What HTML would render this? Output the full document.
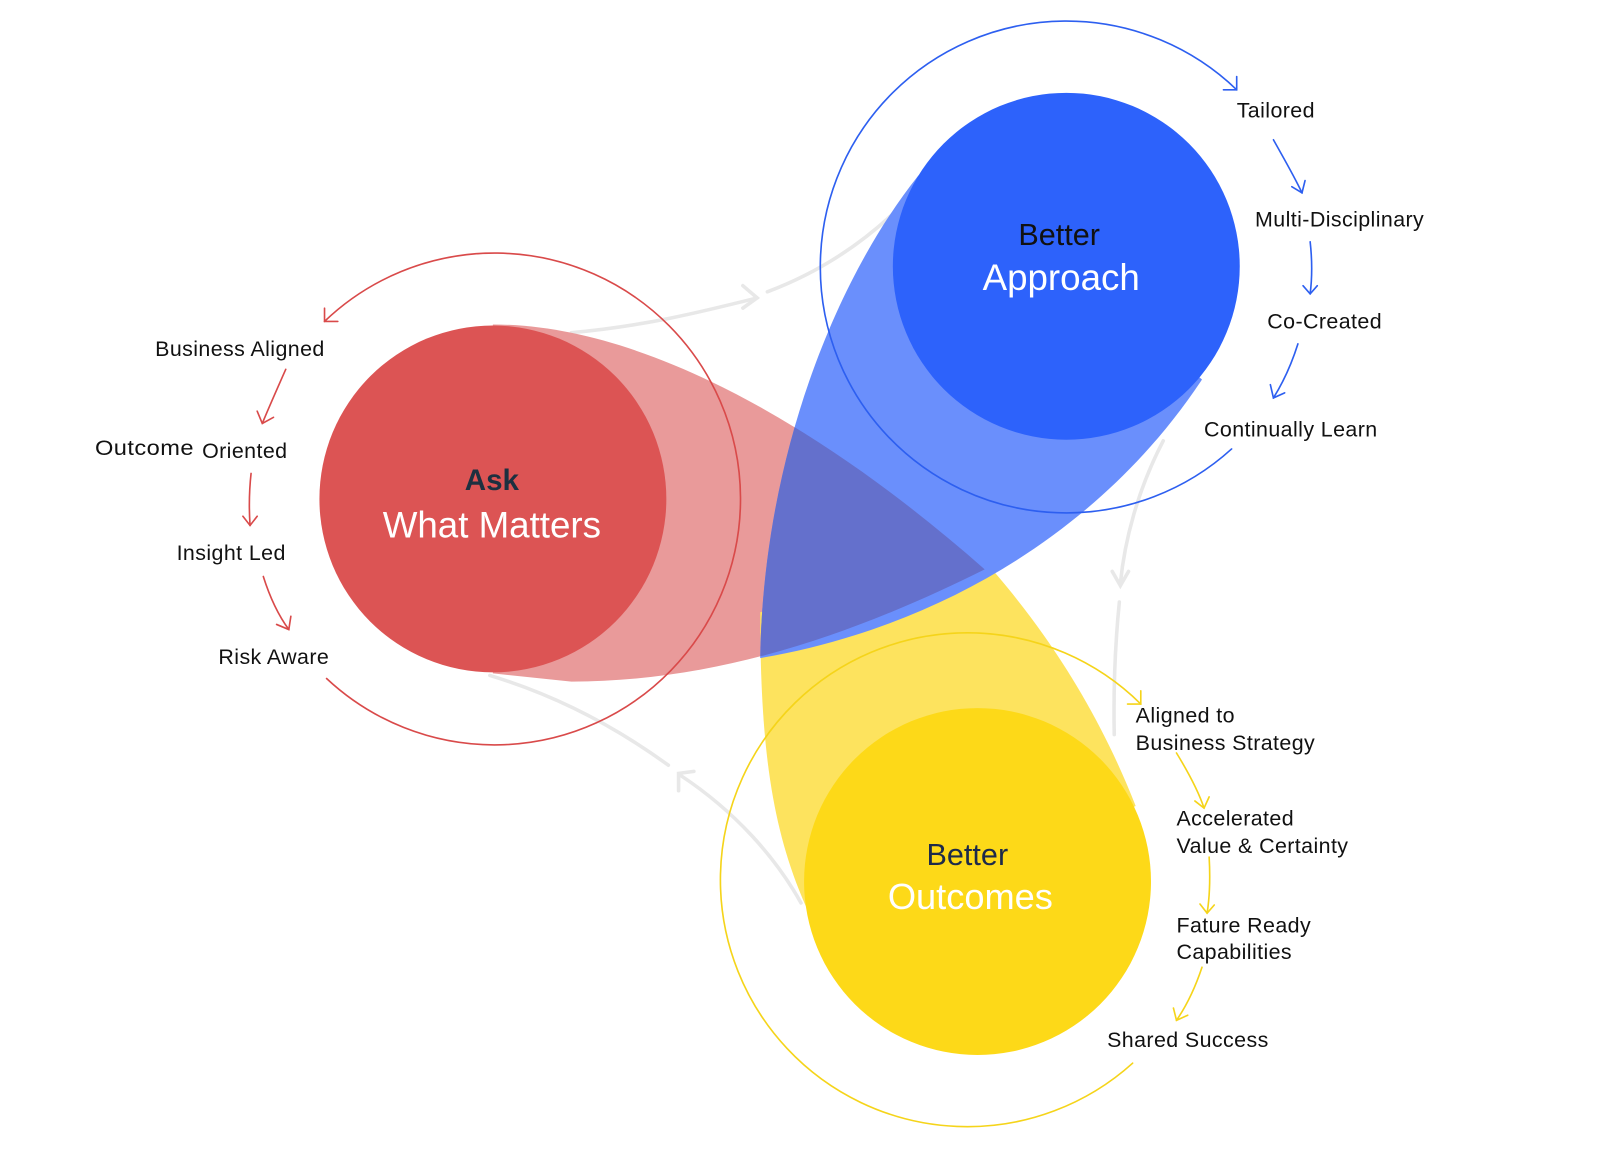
<!DOCTYPE html>
<html><head><meta charset="utf-8"><style>
html,body{margin:0;padding:0;background:#fff;}
svg{display:block;}
text{font-family:"Liberation Sans",sans-serif;}
.lb{font-size:21px;fill:#111;letter-spacing:0.4px;}
</style></head><body>
<svg width="1600" height="1155" viewBox="0 0 1568 1132" xmlns="http://www.w3.org/2000/svg">
<defs>
<clipPath id="blueclip"><path d="M900,172 C818,275 748,450 745,645 C920,615 1080,520 1178,372 L1045,261 Z"/></clipPath>
</defs>
<g fill="none" stroke="#e8e8e8" stroke-width="3.5" stroke-linecap="round">
<path d="M560,326 C630,320 690,305 742,292"/>
<path d="M728,280 L742,292 L728,302"/>
<path d="M752,286 C800,268 845,240 885,200"/>
<path d="M1140,432 C1115,480 1102,530 1098,572"/>
<path d="M1090,560 L1098,574 L1106,560"/>
<path d="M1097,590 C1093,630 1091,670 1092,720"/>
<path d="M785,885 C760,840 720,795 667,760"/>
<path d="M665,775 L665,758 L680,756"/>
<path d="M655,750 C600,710 540,680 480,662"/>
</g>
<path d="M483,318 C640,318 820,430 965,558 C860,610 720,668 560,668 L483,660 Z" fill="#e99a9a"/>
<path d="M745,600 C745,750 760,830 800,910 L958,864 L1113,790 C1070,680 1010,600 965,550 Z" fill="#fde35e"/>
<path d="M900,172 C818,275 748,450 745,645 C920,615 1080,520 1178,372 L1045,261 Z" fill="#6a8ffc"/>
<path d="M483,318 C640,318 820,430 965,558 C860,610 720,668 560,668 L483,660 Z" fill="#6470cc" clip-path="url(#blueclip)"/>
<circle cx="483" cy="489" r="170" fill="#dc5454"/>
<circle cx="1045" cy="261" r="170" fill="#2d62fb"/>
<circle cx="958" cy="864" r="170" fill="#fdd918"/>
<g fill="none" stroke-width="1.6" stroke-linecap="round">
<path d="M320,665 A241,241 0 1 0 318,315" stroke="#d94a4a"/>
<path d="M318,302 L318,315 L331,315" stroke="#d94a4a"/>
<path d="M1207,440 A241,241 0 1 1 1212,88" stroke="#2d5ff0"/>
<path d="M1212,75 L1212,88 L1199,88" stroke="#2d5ff0"/>
<path d="M1110,1042 A242,242 0 1 1 1118,690" stroke="#f5d41a"/>
<path d="M1118,677 L1118,690 L1105,690" stroke="#f5d41a"/>
<g stroke="#d94a4a">
<path d="M280,362 C272,380 264,398 257,415"/><path d="M252,403 L257,415 L268,409"/>
<path d="M246,464 C244,482 244,500 245,515"/><path d="M238,506 L245,515 L252,506"/>
<path d="M258,565 C264,584 272,602 283,617"/><path d="M271,612 L283,617 L285,604"/>
</g>
<g stroke="#2d5ff0">
<path d="M1248,137 C1258,155 1268,172 1276,189"/><path d="M1266,183 L1276,189 L1279,177"/>
<path d="M1284,237 C1286,255 1286,272 1284,288"/><path d="M1277,280 L1284,288 L1291,280"/>
<path d="M1272,337 C1266,356 1258,374 1248,390"/><path d="M1245,377 L1248,390 L1259,385"/>
</g>
<g stroke="#f5d41a">
<path d="M1153,738 C1164,756 1174,774 1180,792"/><path d="M1171,785 L1180,792 L1185,781"/>
<path d="M1185,840 C1186,858 1186,876 1183,895"/><path d="M1176,886 L1183,895 L1190,887"/>
<path d="M1178,948 C1172,966 1164,984 1153,1000"/><path d="M1150,988 L1153,1000 L1164,995"/>
</g>
</g>
<text x="482" y="480" text-anchor="middle" font-size="29" font-weight="bold" fill="#1d3040">Ask</text>
<text x="482" y="527" text-anchor="middle" font-size="36" fill="#fff">What Matters</text>
<text x="1038" y="240" text-anchor="middle" font-size="30" fill="#111">Better</text>
<text x="1040" y="284" text-anchor="middle" font-size="36" fill="#fff">Approach</text>
<text x="948" y="848" text-anchor="middle" font-size="30" fill="#1d2a4a">Better</text>
<text x="951" y="891" text-anchor="middle" font-size="35.5" fill="#fff">Outcomes</text>
<text class="lb" x="152" y="349">Business Aligned</text>
<text class="lb" x="93" y="446" textLength="97" lengthAdjust="spacingAndGlyphs">Outcome</text>
<text class="lb" x="198" y="449">Oriented</text>
<text class="lb" x="173" y="549">Insight Led</text>
<text class="lb" x="214" y="651">Risk Aware</text>
<text class="lb" x="1212" y="115">Tailored</text>
<text class="lb" x="1230" y="222">Multi-Disciplinary</text>
<text class="lb" x="1242" y="322">Co-Created</text>
<text class="lb" x="1180" y="428">Continually Learn</text>
<text class="lb" x="1113" y="708">Aligned to</text>
<text class="lb" x="1113" y="735">Business Strategy</text>
<text class="lb" x="1153" y="809">Accelerated</text>
<text class="lb" x="1153" y="836">Value &amp; Certainty</text>
<text class="lb" x="1153" y="914">Fature Ready</text>
<text class="lb" x="1153" y="940">Capabilities</text>
<text class="lb" x="1085" y="1026">Shared Success</text>
</svg>
</body></html>
